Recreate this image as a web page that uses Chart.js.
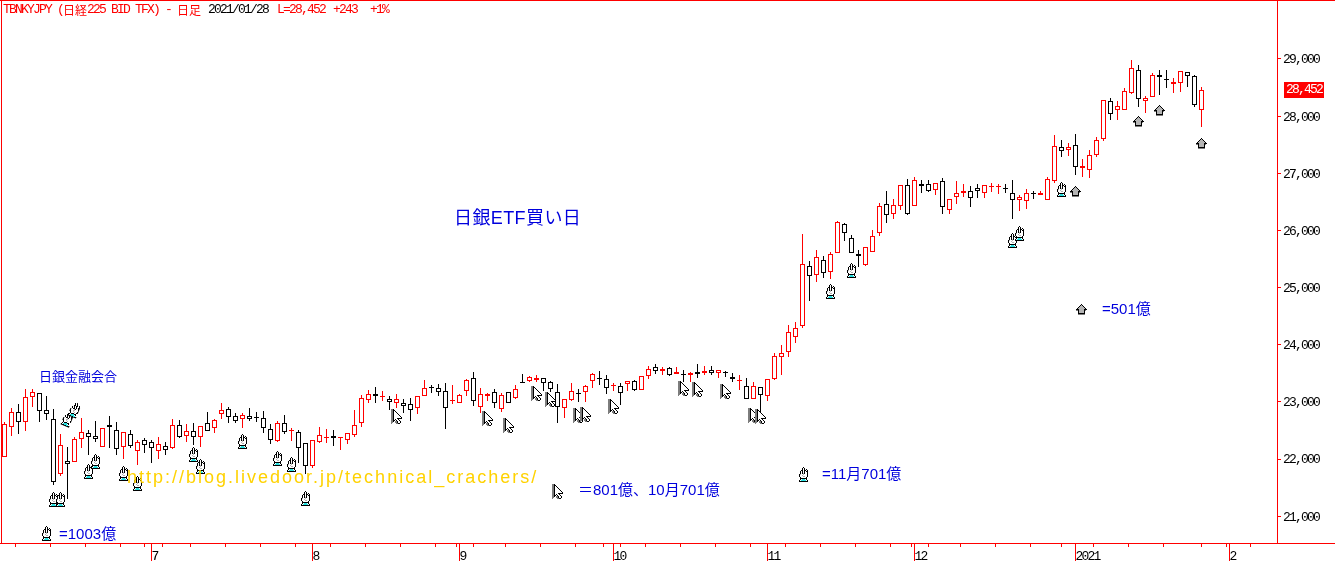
<!DOCTYPE html>
<html lang="ja">
<head>
<meta charset="utf-8">
<title>TBNKYJPY</title>
<script src="https://cdn.jsdelivr.net/npm/chart.js@4"></script>
<style>html,body{margin:0;padding:0;background:#fff}canvas{display:block}</style>
</head>
<body>
<canvas id="c" width="1335" height="561"></canvas>
<script>
const opens=[22040,22554,22816,22653,23090,23149,22851,22694,21731,21959,21953,22344,22449,22408,22204,22600,22501,22204,22431,22145,22326,22297,22134,22233,22198,22589,22408,22495,22379,22624,22536,22781,22869,22746,22694,22758,22727,22711,22530,22320,22624,22492,22466,22274,21877,22303,22375,
22396,22364,22326,22414,22624,23026,23131,23087,23044,22974,22974,22956,22886,23096,23257,23236,23184,23017,22974,23184,23411,22904,23096,23166,22869,23166,23061,23356,23359,23376,23411,23341,23166,22886,23026,23158,23166,23359,23420,23394,23280,23271,23306,23359,23201,23446,23604,23534,23586,23481,23490,23464,23516,23499,23551,23499,23525,23429,23367,23271,23044,23254,23096,23394,
23790,23878,24140,24333,25383,25225,25476,25266,25599,26106,25861,25581,25400,25616,25949,26456,26281,26421,26789,26421,26806,26806,26701,26859,26351,26579,
26649,26684,26736,26649,26768,26768,26739,26649,26526,26509,26652,26614,26526,26859,27454,27401,27489,27086,27051,27314,27594,28259,28101,28101,28399,28801,28259,28329,28714,28653,28556,28574,28766,28696,28101];
const highs=[22653,22886,22956,23225,23219,23149,23102,22869,22437,22204,22390,22711,22501,22665,22548,22758,22647,22466,22507,22332,22361,22332,22379,22291,22699,22676,22612,22635,22571,22822,22694,22985,22910,22799,22799,22886,22816,22840,22606,22665,22769,22542,22507,22274,22326,22554,22519,
22507,22382,22460,22857,23119,23207,23254,23184,23096,23131,23044,23061,23096,23376,23289,23306,23324,23294,23131,23400,23516,23236,23149,23219,23149,23166,23289,23487,23446,23464,23411,23359,23312,23044,23329,23219,23289,23499,23534,23469,23324,23324,23359,23382,23446,23627,23656,23604,23604,23604,23557,23516,23656,23627,23621,23551,23534,23510,23469,23411,23353,23265,23394,23849,
23994,24344,24391,25937,25464,25657,25552,25616,26159,26135,25914,25657,25704,26007,26474,26684,26550,26789,26894,26929,26876,26876,26824,26911,26544,26859,
26806,26777,26806,26789,26824,26806,26806,26882,26614,26719,26695,26684,26935,27669,27582,27524,27687,27244,27407,27629,28276,28311,28259,28486,28982,28894,28346,28749,28801,28801,28661,28784,28766,28714,28504];
const lows=[22040,22402,22437,22490,22915,22653,22682,21545,21702,21300,21953,22198,22070,22297,22204,22198,22075,21999,22198,21894,22099,21935,21999,22070,22180,22361,22303,22245,22204,22495,22460,22694,22635,22635,22548,22670,22653,22460,22262,22303,22437,22320,21935,21737,21836,22285,22285,
22227,22157,22268,22390,22565,22985,22985,23009,22857,22886,22805,22670,22793,23096,23149,23096,22530,22956,22974,23096,22921,22799,23009,22886,22816,22974,23049,23324,23341,23341,23184,23178,22624,22723,23020,23003,22991,23236,23289,23131,23189,22939,23184,23184,23201,23394,23487,23464,23458,23481,23341,23341,23411,23464,23469,23411,23440,23341,23207,23044,23044,22828,23020,23382,
23475,23790,24035,24298,24770,25103,25173,25149,25599,25820,25599,25359,25383,25616,25908,26135,26205,26363,26264,26421,26660,26666,26625,26293,26293,26462,
26590,26415,26573,26573,26678,26643,26660,26205,26345,26380,26555,26614,26526,26835,27290,27302,26975,26940,26923,27279,27559,27938,27938,28101,28381,28154,28060,28329,28369,28498,28399,28428,28504,28165,27804];
const closes=[22612,22828,22641,23079,23172,22845,22793,21603,22239,21906,22344,22466,22379,22355,22536,22554,22180,22466,22233,22291,22239,22186,22256,22151,22589,22379,22484,22379,22571,22495,22676,22851,22729,22659,22764,22694,22707,22536,22326,22624,22478,22510,22186,21877,22326,22414,22393,
22361,22382,22449,22589,23061,23131,23096,23105,22991,23044,22921,22851,23096,23236,23239,23166,22886,23035,23114,23376,23009,23131,23131,22974,23114,22974,23219,23338,23429,23411,23324,23219,22904,23044,23184,23140,23271,23481,23402,23236,23298,23149,23359,23207,23446,23569,23534,23569,23469,23516,23472,23499,23481,23534,23499,23551,23507,23394,23385,23044,23271,23114,23394,23796,
23849,24216,24292,25406,25196,25529,25249,25581,26141,25949,25599,25546,25704,25896,26421,26264,26439,26789,26281,26876,26771,26684,26824,26404,26544,26649,
26684,26561,26684,26789,26786,26786,26721,26526,26579,26649,26634,26649,26894,27471,27384,27454,27104,27121,27314,27576,28276,28031,28171,28434,28836,28294,28311,28714,28679,28635,28591,28784,28696,28189,28452];

const yTickValues=[21000,22000,23000,24000,25000,26000,27000,28000,29000];
const weekTickIndex=[4,9,14,19,24,29,34,39,49,54,59,64,69,74,79,84,89,94,99,104,114,119,124,129,134,139,144,149,158,163,168,174,181];
const monthTickIndex=[21,44,65,87,109,130,153,175];
const monthTickLabels=['7','8','9','10','11','12','2021','2'];

const handIndex=[7,8,12,13,17,19,27,28,34,39,41,43,118,121,144,145,151,6.07,114.1];
const handValue=[21300,21300,21790,21948,21750,21575,22082,21872,22315,22005,21907,21312,24935,25302,25820,25950,26720,20705,21725];
const tiltedHandIndex=[9,10];
const tiltedHandValue=[22700,22858];
const cursorIndex=[56,69,72,76,78,82,83,87,97,99,103,107,108,79.1];
const cursorValue=[22740,22712,22595,23138,23045,22758,22782,22915,23230,23208,23185,22770,22752,21440];
const arrowIndex=[153,162,165,171,153.9];
const arrowValue=[26685,27910,28095,27518,24608];

const RED='#ff0000', BLUE='#0000dd', GOLD='#ffd200';
const MONO='"Liberation Mono","Noto Sans CJK JP",monospace';
const JP='"Noto Sans CJK JP",sans-serif';
const PROP='"Liberation Sans","Noto Sans CJK JP",sans-serif';
const TS=-1.8;

const textItems=[
 {t:'TBNKYJPY (',x:3,y:10,f:'13px '+MONO,c:RED,s:TS},
 {t:'日経',x:63,y:10,f:'12px '+JP,c:RED,s:0},
 {t:'225 BID TFX) - ',x:87,y:10,f:'13px '+MONO,c:RED,s:TS},
 {t:'日足',x:177,y:10,f:'12px '+JP,c:RED,s:0},
 {t:'2021/01/28',x:208,y:10,f:'13px '+MONO,c:'#000',s:TS},
 {t:'L=28,452',x:277,y:10,f:'13px '+MONO,c:RED,s:TS},
 {t:'+243',x:333,y:10,f:'13px '+MONO,c:RED,s:TS},
 {t:'+1%',x:370,y:10,f:'13px '+MONO,c:RED,s:TS},
 {t:'日銀ETF買い日',x:454,y:219,f:'18px '+PROP,c:BLUE,s:0.4},
 {t:'日銀金融会合',x:39,y:376,f:'13px '+JP,c:BLUE,s:0},
 {t:'=1003億',x:59,y:535,f:'15px '+PROP,c:BLUE,s:0},
 {t:'＝801億、10月701億',x:578,y:491,f:'15px '+PROP,c:BLUE,s:0},
 {t:'=11月701億',x:822,y:475,f:'15px '+PROP,c:BLUE,s:0},
 {t:'=501億',x:1102,y:310,f:'15px '+PROP,c:BLUE,s:0},
 {t:'http://blog.livedoor.jp/technical_crachers/',x:127,y:478,f:'18px '+PROP,c:GOLD,s:2}
];

const PAL={K:'#000',W:'#fff',G:'#b4b4b4',D:'#7d7d7d',C:'#28e0e0'};
function icon(rows){
  const h=rows.length,w=rows[0].length,cv=document.createElement('canvas');
  cv.width=w;cv.height=h;
  const x=cv.getContext('2d');
  rows.forEach((r,j)=>{[...r].forEach((ch,i)=>{if(PAL[ch]){x.fillStyle=PAL[ch];x.fillRect(i,j,1,1);}});});
  return cv;
}
const handIcon=icon([
"....K....",
"...KWK...",
"...KWK.K.",
"..KKWKKWK",
".KWKWKWKK",
".KWKWKWWK",
".KWKGKWWK",
"KGWWGWWWK",
"KWWGWWWWK",
"KWWWGGWWK",
".KWWWWWK.",
".KKKKKKK.",
".KWCCCWK.",
"KWCCCCCWK",
"KKKKKKKKK"]);
const cursorIcon=icon([
"DDK.........",
"DDKK........",
"DDKWK.......",
"DDKWWK......",
"DDKWWWK.....",
"DDKWWWWK....",
"DDKWWWWWK...",
"DDKWWWWWWK..",
"DDKWWWWWWWK.",
"DDKWWWKKKKK.",
"DDKWKWWK....",
"DDKK.KWWK...",
"DDK.DDKWWK..",
"DD..DDKWWK..",
"D....DDKK..."]);
const arrowIcon=icon([
".....K.....",
"....KGK....",
"...KGGGK...",
"..KGGGGGK..",
".KGGGGGGGK.",
"KKKGGGGGKKK",
"DDKGGGGGKD.",
"..KGGGGGK..",
"..KGGGGGK..",
"..KKKKKKK..",
"..DDDDDDD.."]);

const pts=(xs,ys)=>xs.map((x,i)=>({x,y:ys[i]}));
const isUp=i=>closes[i]>=opens[i];
const colorOf=c=>isUp(c.dataIndex)?RED:'#000';

const frame={id:'frame',
 afterDatasetsUpdate(ch){
  ch.getSortedVisibleDatasetMetas().forEach(m=>{
   if(m.type!=='bar')return;
   m.data.forEach(el=>{
    const top=Math.min(el.y,el.base),bot=Math.max(el.y,el.base);
    const thin=bot-top<1.5;
    const t=Math.round(top),b=thin?t+1:Math.round(bot);
    el.y=t;el.base=b;el.height=b-t;
   });
  });
 },
 beforeDraw(ch){const g=ch.ctx;g.save();g.fillStyle='#fff';g.fillRect(0,0,1335,561);g.restore();g.letterSpacing=TS+'px';g.imageSmoothingEnabled=false;},
 afterDraw(ch){
  const g=ch.ctx,xs=ch.scales.x,ys=ch.scales.y,b=Math.round(ch.chartArea.bottom),r=Math.round(ch.chartArea.right);
  g.save();g.letterSpacing='0px';g.fillStyle=RED;
  g.fillRect(0,0,1335,1);
  g.fillRect(1,0,1,b);
  g.fillRect(r,0,1,b);
  g.fillRect(0,b,1335,1);
  monthTickIndex.forEach(i=>{g.fillRect(Math.floor(xs.getPixelForValue(i)),b,1,561-b);});
  textItems.forEach(a=>{g.font=a.f;g.fillStyle=a.c;g.letterSpacing=a.s+'px';g.textBaseline='middle';g.textAlign='left';g.fillText(a.t,a.x,a.y);});
  const last=closes[closes.length-1],py=Math.round(ys.getPixelForValue(last));
  g.fillStyle=RED;g.fillRect(1284,py-8,40,16);
  g.fillStyle='#fff';g.font='13px '+MONO;g.letterSpacing=TS+'px';g.textBaseline='middle';
  g.fillText(last.toLocaleString('en-US'),1286,py);
  g.restore();
 }};

new Chart(document.getElementById('c'),{
 type:'bar',
 plugins:[frame],
 data:{datasets:[
  {type:'scatter',order:0,data:pts(handIndex,handValue),showLine:false,pointStyle:handIcon,pointRadius:7},
  {type:'scatter',order:0,data:pts(tiltedHandIndex,tiltedHandValue),showLine:false,pointStyle:handIcon,pointRadius:7,pointRotation:22},
  {type:'scatter',order:0,data:pts(cursorIndex,cursorValue),showLine:false,pointStyle:cursorIcon,pointRadius:7},
  {type:'scatter',order:0,data:pts(arrowIndex,arrowValue),showLine:false,pointStyle:arrowIcon,pointRadius:7},
  {type:'bar',order:1,grouped:false,barThickness:5,borderWidth:1,borderSkipped:false,inflateAmount:0,
   data:opens.map((o,i)=>({x:i,y:[o,closes[i]]})),backgroundColor:'#fff',borderColor:colorOf},
  {type:'bar',order:2,grouped:false,barThickness:1,borderWidth:0,inflateAmount:0,
   data:highs.map((h,i)=>({x:i,y:[lows[i],h]})),backgroundColor:colorOf}
 ]},
 options:{
  responsive:false,animation:false,
  layout:{autoPadding:false,padding:{left:1,top:0,right:0,bottom:0}},
  plugins:{legend:{display:false},tooltip:{enabled:false},title:{display:false}},
  scales:{
   x:{type:'linear',min:-0.5,max:181.7857,offset:false,
    afterBuildTicks(s){s.ticks=[...weekTickIndex,...monthTickIndex].sort((a,b)=>a-b).map(v=>({value:v}));},
    afterFit(s){s.height=18;s.paddingLeft=0;s.paddingRight=0;},
    grid:{drawOnChartArea:false,drawTicks:true,tickLength:4,tickColor:RED,tickWidth:1},
    border:{color:RED,width:1},
    ticks:{autoSkip:false,maxRotation:0,minRotation:0,align:'start',padding:2,color:'#000',font:{family:MONO,size:13},
     callback(v){const k=monthTickIndex.indexOf(v);return k>=0?monthTickLabels[k]:'';}}
   },
   y:{type:'linear',position:'right',min:20530,max:30032.5,
    afterBuildTicks(s){s.ticks=yTickValues.map(v=>({value:v}));},
    afterFit(s){s.width=58;s.paddingTop=0;s.paddingBottom=0;},
    grid:{drawOnChartArea:false,drawTicks:true,tickLength:4,tickColor:RED,tickWidth:1},
    border:{color:RED,width:1},
    ticks:{padding:2,labelOffset:1,color:'#000',font:{family:MONO,size:13},callback(v){return v.toLocaleString('en-US');}}
   }
  }
 }
});
</script>
</body>
</html>
